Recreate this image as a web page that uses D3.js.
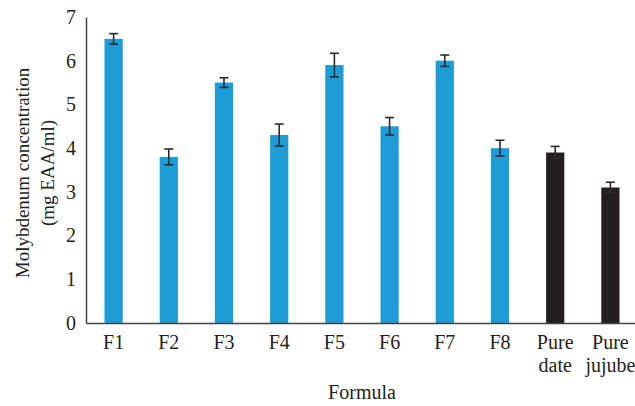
<!DOCTYPE html>
<html>
<head>
<meta charset="utf-8">
<script src="https://cdn.jsdelivr.net/npm/d3@7"></script>
<style>
  body { margin: 0; background: #fff; }
  text { font-family: "Liberation Serif", "DejaVu Serif", serif; fill: #231f20; }
</style>
</head>
<body>
<div id="viz"></div>
<script>
// chart data
var categories = ['F1', 'F2', 'F3', 'F4', 'F5', 'F6', 'F7', 'F8', 'Pure date', 'Pure jujube']
var values = [6.5, 3.8, 5.5, 4.3, 5.9, 4.5, 6.0, 4.0, 3.9, 3.1]
var errors = [0.12, 0.18, 0.11, 0.25, 0.27, 0.2, 0.13, 0.18, 0.14, 0.12]
var yTicks = [0, 1, 2, 3, 4, 5, 6, 7]

var W = 635, H = 406
var margin = { top: 17, right: -3, bottom: 83, left: 86 }
var width = W - margin.left - margin.right,
  height = H - margin.top - margin.bottom

var svg = d3.select('#viz')
  .append('svg')
  .attr('width', W)
  .attr('height', H)

var g = svg.append('g')
  .attr('transform', 'translate(' + margin.left + ',' + margin.top + ')')

var x = d3.scaleBand()
  .domain(categories)
  .range([0, width])
  .paddingInner(0.67)
  .paddingOuter(0.335)

var y = d3.scaleLinear()
  .domain([0, 7])
  .range([height, 0])

// bars
g.selectAll('.bar')
  .data(categories)
  .enter()
  .append('rect')
  .attr('x', function(d) { return x(d) })
  .attr('width', x.bandwidth())
  .attr('y', function(d, i) { return y(values[i]) })
  .attr('height', function(d, i) { return height - y(values[i]) })
  .attr('fill', function(d) { return d.indexOf('Pure') === 0 ? '#231f20' : '#1e9cd7' })

// error bars
var capW = 4.5
var err = g.selectAll('.err')
  .data(categories)
  .enter()
  .append('g')
  .attr('stroke', '#2b2b2b')
  .attr('stroke-width', 1.6)
err.append('line')
  .attr('x1', function(d) { return x(d) + x.bandwidth() / 2 })
  .attr('x2', function(d) { return x(d) + x.bandwidth() / 2 })
  .attr('y1', function(d, i) { return y(values[i] + errors[i]) })
  .attr('y2', function(d, i) { return y(values[i] - errors[i]) })
err.append('line')
  .attr('x1', function(d) { return x(d) + x.bandwidth() / 2 - capW })
  .attr('x2', function(d) { return x(d) + x.bandwidth() / 2 + capW })
  .attr('y1', function(d, i) { return y(values[i] + errors[i]) })
  .attr('y2', function(d, i) { return y(values[i] + errors[i]) })
err.append('line')
  .attr('x1', function(d) { return x(d) + x.bandwidth() / 2 - capW })
  .attr('x2', function(d) { return x(d) + x.bandwidth() / 2 + capW })
  .attr('y1', function(d, i) { return y(values[i] - errors[i]) })
  .attr('y2', function(d, i) { return y(values[i] - errors[i]) })

// y axis
var yAxis = g.append('g')
  .call(d3.axisLeft(y).tickValues(yTicks).tickFormat(d3.format('d')).tickSize(0).tickPadding(10))
yAxis.select('.domain').attr('stroke', '#444').attr('stroke-width', 1.5)
yAxis.selectAll('text')
  .attr('font-size', 20)
  .attr('fill', '#231f20')

// x axis
var xAxis = g.append('g')
  .attr('transform', 'translate(0,' + height + ')')
  .call(d3.axisBottom(x).tickSize(0).tickPadding(0))
xAxis.select('.domain').attr('stroke', '#444').attr('stroke-width', 1.5)
xAxis.selectAll('text').remove()
xAxis.selectAll('.tick')
  .append('text')
  .attr('font-size', 20)
  .attr('text-anchor', 'middle')
  .attr('fill', '#231f20')
  .each(function(d) {
    var parts = d.split(' ')
    var t = d3.select(this)
    parts.forEach(function(p, k) {
      t.append('tspan')
        .attr('x', 0)
        .attr('y', 26 + k * 23)
        .text(p)
    })
  })

// axis titles
svg.append('text')
  .attr('x', 362)
  .attr('y', 399)
  .attr('text-anchor', 'middle')
  .attr('font-size', 20)
  .text('Formula')

var yTitle = svg.append('text')
  .attr('transform', 'translate(29,173)rotate(-90)')
  .attr('text-anchor', 'middle')
  .attr('font-size', 19)
yTitle.append('tspan').attr('x', 0).attr('y', 0).text('Molybdenum concentration')
yTitle.append('tspan').attr('x', 0).attr('y', 25).text('(mg EAA/ml)')
</script>
</body>
</html>
